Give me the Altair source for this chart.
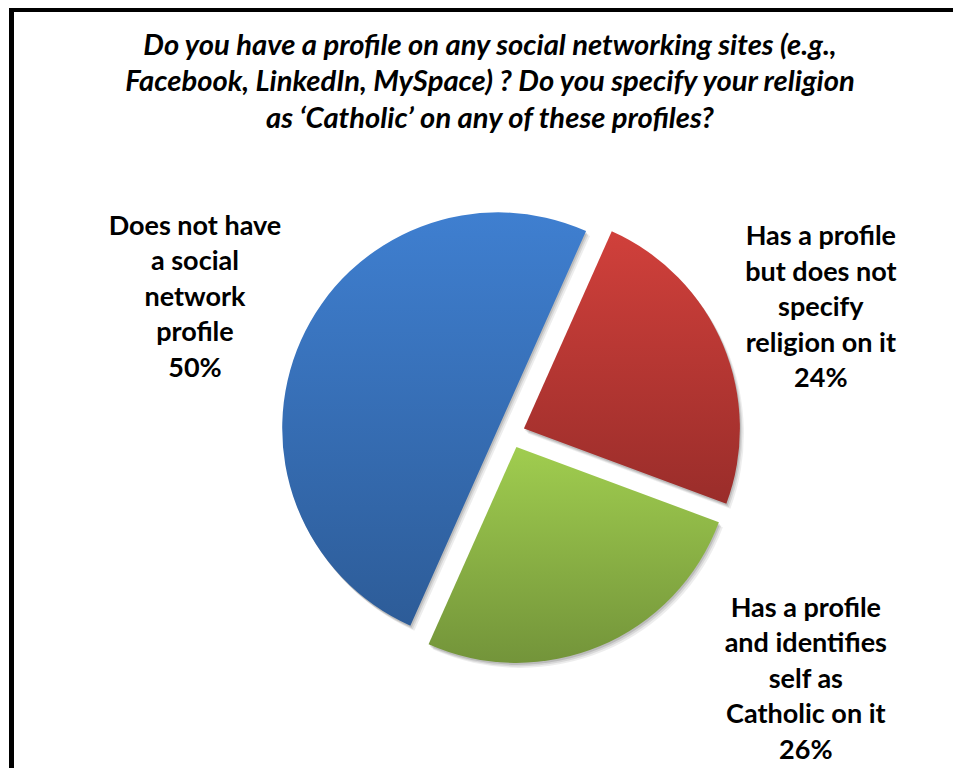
import math
import altair as alt
import pandas as pd

# ---------------- data ----------------
categories = [
    "Does not have a social network profile",
    "Has a profile but does not specify religion on it",
    "Has a profile and identifies self as Catholic on it",
]
values = [50, 24, 26]
label_lines = [
    ["Does not have", "a social", "network", "profile"],
    ["Has a profile", "but does not", "specify", "religion on it"],
    ["Has a profile", "and identifies", "self as", "Catholic on it"],
]
title_lines = [
    "Do you have a profile on any social networking sites (e.g.,",
    "Facebook, LinkedIn, MySpace) ? Do you specify your religion",
    "as \u2018Catholic\u2019 on any of these profiles?",
]

# ---------------- layout / style ----------------
W, H = 945, 760
CX, CY = 503, 426          # pie centre
R = 216                    # pie radius
EXPLODE = 14               # explosion distance
LR = 335                   # label radius
START = math.radians(204)  # angle where the first slice starts
FONT = "Lato"
LH = 35.5                  # label line height
NLINES = 5

slice_styles = [
    {"c0": "#3F7FD0", "c1": "#2D5C98", "dx": -10, "dy": 0},
    {"c0": "#D0403B", "c1": "#9A2D2A", "dx": 1, "dy": 4},
    {"c0": "#A0CD4F", "c1": "#73943A", "dx": 165, "dy": -63},
]

df = pd.DataFrame({
    "category": categories,
    "value": values,
    "idx": list(range(len(categories))),
    "label": ["\n".join(lines + [f"{v}%"]) for lines, v in zip(label_lines, values)],
})

base = (
    alt.Chart(df)
    .transform_joinaggregate(total="sum(value)")
    .transform_window(cum="sum(value)", sort=[alt.SortField("idx")], frame=[None, 0])
    .transform_calculate(
        f0="(datum.cum - datum.value) / datum.total",
        f1="datum.cum / datum.total",
    )
    .transform_calculate(mid=f"{START} + PI * (datum.f0 + datum.f1)")
    .transform_calculate(
        cx=f"{CX} + {EXPLODE} * sin(datum.mid)",
        cy=f"{CY} - {EXPLODE} * cos(datum.mid)",
        lx=f"{CX} + {LR} * sin(datum.mid)",
        ly=f"{CY} - {LR} * cos(datum.mid)",
    )
)

theta_enc = dict(
    theta=alt.Theta("f0:Q", scale=alt.Scale(domain=[0, 1], range=[START, START + 2 * math.pi])),
    theta2=alt.Theta2("f1:Q"),
    x=alt.X("cx:Q", scale=None, axis=None),
    y=alt.Y("cy:Q", scale=None, axis=None),
)

layers = []
# soft shadow
for off, op in [((4, 5), 0.07), ((2.5, 3.5), 0.09), ((1.2, 2), 0.12)]:
    layers.append(
        base.mark_arc(radius=R, fill="#000000", opacity=op, xOffset=off[0], yOffset=off[1])
        .encode(**theta_enc)
    )

for i, st in enumerate(slice_styles):
    grad = {
        "gradient": "linear",
        "x1": 0, "y1": 0, "x2": 0, "y2": 1,
        "stops": [
            {"offset": 0, "color": st["c0"]},
            {"offset": 1, "color": st["c1"]},
        ],
    }
    layers.append(
        base.transform_filter(f"datum.idx == {i}")
        .mark_arc(radius=R, fill=grad)
        .encode(**theta_enc)
    )
    # Vega puts the first line of a multi-line text at y: shift up to centre the block
    layers.append(
        base.transform_filter(f"datum.idx == {i}")
        .mark_text(
            font=FONT, fontSize=27, fontWeight="bold", color="#000000",
            align="center", baseline="middle", lineBreak="\n", lineHeight=LH,
            dx=st["dx"], dy=st["dy"] - LH * (NLINES - 1) / 2,
        )
        .encode(
            x=alt.X("lx:Q", scale=None, axis=None),
            y=alt.Y("ly:Q", scale=None, axis=None),
            text="label:N",
        )
    )

title = (
    alt.Chart(pd.DataFrame({"t": ["\n".join(title_lines)]}))
    .mark_text(
        font=FONT, fontSize=29.2, fontWeight="bold", fontStyle="italic", color="#000000",
        align="center", baseline="middle", lineBreak="\n", lineHeight=36.5,
    )
    .encode(x=alt.value(482), y=alt.value(37.5), text="t:N")
)

one = pd.DataFrame({"a": [0]})
frame_left = alt.Chart(one).mark_rule(color="#000000", strokeWidth=5).encode(
    x=alt.value(3.5), y=alt.value(0), y2=alt.value(H)
)
frame_top = alt.Chart(one).mark_rule(color="#000000", strokeWidth=4).encode(
    x=alt.value(1), x2=alt.value(W), y=alt.value(2)
)

chart = (
    alt.layer(*layers, title, frame_left, frame_top)
    .properties(width=W, height=H, autosize=alt.AutoSizeParams(type="none"), padding=0)
    .configure_view(strokeWidth=0)
)

chart.save("out.html", embed_options={"renderer": "svg", "actions": False})
